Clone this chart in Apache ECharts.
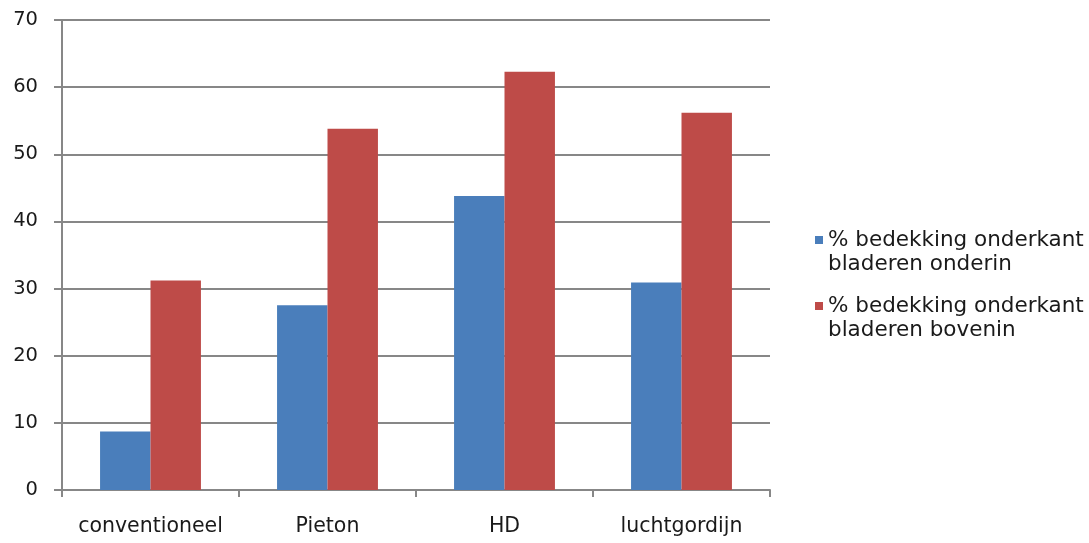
<!DOCTYPE html>
<html>
<head>
<meta charset="utf-8">
<script src="https://cdn.jsdelivr.net/npm/echarts@6/dist/echarts.min.js"></script>
<style>
  html, body { margin: 0; padding: 0; background: #ffffff; }
  #chart { width: 1089px; height: 543px; }
</style>
</head>
<body>
<div id="chart"></div>
<script>
// Categories and measured leaf coverage (%)
const categories = ['conventioneel', 'Pieton', 'HD', 'luchtgordijn'];
const seriesNames = ['% bedekking onderkant\nbladeren onderin', '% bedekking onderkant\nbladeren bovenin'];
const onderin = [8.7, 27.5, 43.8, 30.9];
const bovenin = [31.2, 53.8, 62.3, 56.2];
const yTicks = { min: 0, max: 70, interval: 10 };

const FONT = 'DejaVu Sans';
const LINE = 24;
const gray = '#878787';
const ink = '#1a1a1a';

const chart = echarts.init(document.getElementById('chart'), null, { renderer: 'canvas' });
chart.setOption({
  animation: false,
  color: ['#4A7EBB', '#BE4B48'],
  grid: { left: 62, right: 319, top: 20, bottom: 53, containLabel: false },
  legend: {
    orient: 'vertical',
    left: 810,
    top: 199,
    itemWidth: 8,
    itemHeight: 8,
    itemGap: -6,
    icon: 'rect',
    data: seriesNames,
    // a blank leading line keeps the marker level with the first text line
    formatter: name => ' \n' + name,
    textStyle: { fontFamily: FONT, fontSize: 21.5, color: ink, lineHeight: LINE }
  },
  xAxis: {
    type: 'category',
    data: categories,
    axisLine: { lineStyle: { color: gray, width: 2 } },
    axisTick: { show: true, interval: 0, length: 7, lineStyle: { color: gray, width: 2 } },
    axisLabel: { interval: 0, fontFamily: FONT, fontSize: 20.5, color: ink, margin: 26 }
  },
  yAxis: {
    type: 'value',
    min: yTicks.min, max: yTicks.max, interval: yTicks.interval,
    axisLine: { show: true, lineStyle: { color: gray, width: 2 } },
    axisTick: { show: true, length: 8, lineStyle: { color: gray, width: 2 } },
    axisLabel: { fontFamily: FONT, fontSize: 19.5, color: ink, margin: 24 },
    splitLine: { lineStyle: { color: gray, width: 2 } }
  },
  series: [
    { name: seriesNames[0], type: 'bar', data: onderin, barGap: '0%', barCategoryGap: '43%' },
    { name: seriesNames[1], type: 'bar', data: bovenin, barGap: '0%', barCategoryGap: '43%' }
  ]
});
</script>
</body>
</html>
